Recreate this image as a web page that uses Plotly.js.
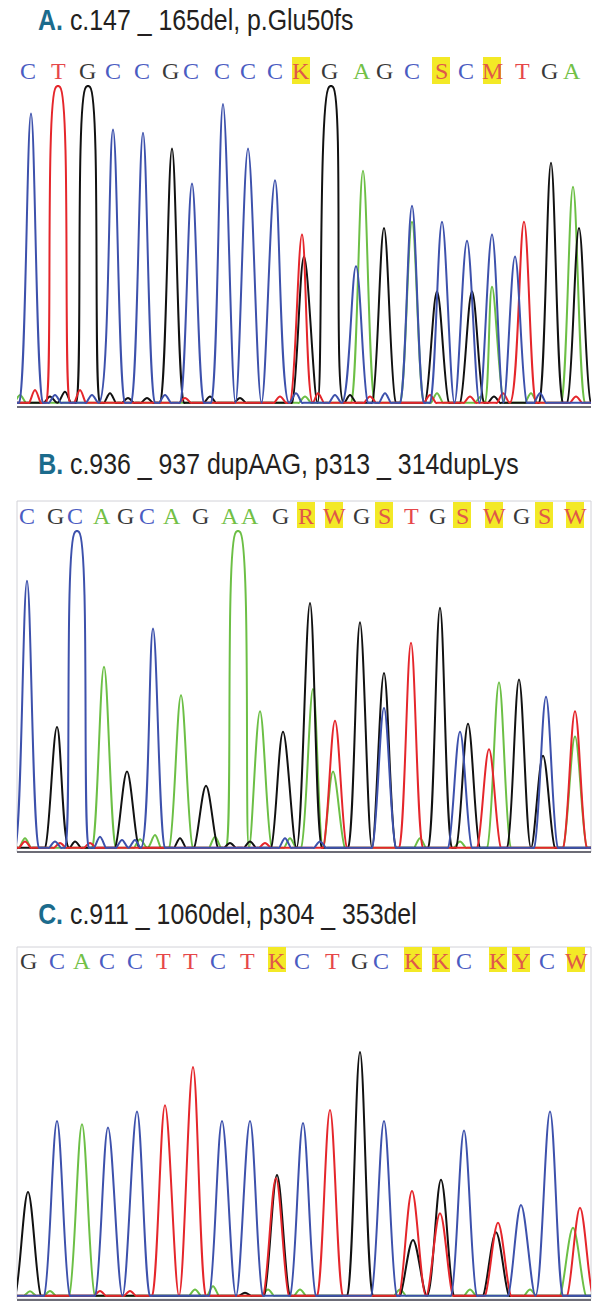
<!DOCTYPE html>
<html><head><meta charset="utf-8">
<script src="https://cdn.plot.ly/plotly-3.0.1.min.js"></script>
<style>html,body{margin:0;padding:0;background:#fff}#chart{width:608px;height:1308px}</style>
</head><body><div id="chart"></div>
<script>
// ---------- Panel titles ----------
const panelLabels = ['A.', 'B.', 'C.'];
const panelTitles = [
  'c.147 _ 165del, p.Glu50fs',
  'c.936 _ 937 dupAAG, p313 _ 314dupLys',
  'c.911 _ 1060del, p304 _ 353del'
];

// ---------- Base calls (letters) and their scan positions ----------
const seqA = ['C','T','G','C','C','G','C','C','C','C','K','G','A','G','C','S','C','M','T','G','A'];
const posA = [28,58,87,113,142,170,191,222,248,275,301,329,362,384,412,441,466,492,522,549,572];
const seqB = ['C','G','C','A','G','C','A','G','A','A','G','R','W','G','S','T','G','S','W','G','S','W'];
const posB = [27,55,75,102,125,147,172,200,230,250,280,306,334,361,384,411,437,462,494,521,544,575];
const seqC = ['G','C','A','C','C','T','T','C','T','K','C','T','G','C','K','K','C','K','Y','C','W'];
const posC = [28,57,82,107,135,163,190,218,247,277,302,332,359,381,413,441,464,498,521,547,576];

// ---------- Peaks: [scan position, relative signal (100 = off scale)] ----------
// Panel A
const aBlue  = [[31,91],[113,86],[143,85],[192,69],[223,94],[248,80],[275,70],[356,43],[412,62],[442,57],[467,51],[492,53],[515,46],[55,2.5],[92,2.5],[165,2.5],[296,3],[335,2.5],[385,3],[540,3]];
const aRed   = [[58,100],[302,53],[524,57],[35,4],[80,4],[185,1.5],[280,2],[318,3],[370,2],[430,2.5],[470,2],[503,3],[576,2]];
const aBlack = [[88,100],[172,80],[304,46],[331,100],[384,55],[437,35],[472,35],[551,75.5],[579,55],[50,2],[65,3.5],[110,3],[128,1.5],[147,1.5],[210,2],[240,1.5],[350,2.5],[494,2]];
const aGreen = [[363,73],[412,57],[492,36.5],[573,68],[20,2.5],[305,2],[437,3],[481,2],[531,3]];
// Panel B
const bBlue  = [[27,84],[77,100],[153,69],[384,44],[460,36.5],[546,47.5],[55,2],[100,3.5],[122,2.5],[135,2.5],[285,3],[320,2]];
const bRed   = [[335,40],[411,64.5],[489,31],[575,43],[25,2],[60,1.5],[90,1.5],[265,1.5]];
const bBlack = [[57,38],[127,24],[206,19.5],[283,36.5],[310,77],[360,71],[384,55],[440,75.5],[468,39],[519,53],[543,29],[75,2],[180,3],[230,1.5],[250,2]];
const bGreen = [[104,57],[181,48],[238,100],[260,43],[313,50],[333,24],[499,52],[575,35],[25,3],[140,2.7],[155,4],[215,3.5],[290,3],[420,3],[460,2]];
// Panel C
const cBlue  = [[57,55],[108,53],[137,58],[222,55],[250,55],[303,54.4],[384,55],[464,52],[521,28.6],[550,58]];
const cRed   = [[165,60],[193,72],[276,37],[330,58.5],[412,33],[440,26],[498,23],[580,27.7],[100,1.5],[130,1.5]];
const cBlack = [[28,32.7],[277,38],[360,76.7],[413,17.6],[441,36.5],[496,20],[245,1]];
const cGreen = [[82,54],[573,21.4],[30,1.4],[50,1.5],[195,2],[213,3],[268,2],[300,2],[400,2],[470,2],[530,2]];

// ---------- Styling ----------
const COL = {blue:'#3d51ac', red:'#e5262b', black:'#111111', green:'#6cbf45'};
const LETTER_COL = {A:'#72c046', C:'#4b5cc2', G:'#3a3a3a', T:'#e6474a'};
const AMBIG_COL = '#e0584a';
const HIGHLIGHT = '#f3e926';
const TITLE_SQUEEZE = 0.83;
const W = 608, H = 1308;
const py = px => 1 - px / H;

// panel geometry in pixels
const panels = [
  {seq:seqA, pos:posA, tr:{green:aGreen, black:aBlack, red:aRed, blue:aBlue}, top:85, bottom:406, titleY:19, letterY:71, hl:[57,84], box:null, w:12},
  {seq:seqB, pos:posB, tr:{green:bGreen, black:bBlack, red:bRed, blue:bBlue}, top:530, bottom:851, titleY:464, letterY:516, hl:[502,528], box:[501,852], w:12},
  {seq:seqC, pos:posC, tr:{green:cGreen, black:cBlack, red:cRed, blue:cBlue}, top:978, bottom:1299, titleY:913, letterY:961, hl:[947,972], box:[947,1299], w:13}
];

const CLIP = 99.4;
function curve(peaks, Wd) {
  const s = peaks.map(([p,h]) => ({p, h, w: h < 8 ? 6 : Wd})).sort((a,b)=>a.p-b.p);
  const xs = [0], ys = [0];
  for (let i = 0; i < s.length; i++) {
    const k = s[i], prev = s[i-1], next = s[i+1];
    const left = k.p - k.w, right = k.p + k.w;
    const overlapPrev = prev && (prev.p + prev.w + 1.5 >= left - 1.5);
    const overlapNext = next && (right + 1.5 >= next.p - next.w - 1.5);
    if (!overlapPrev) { xs.push(left - 1.5, left); ys.push(0, 0); }
    if (k.h >= 100) { xs.push(k.p - 2, k.p + 2); ys.push(CLIP, CLIP); }
    else { xs.push(k.p); ys.push(k.h); }
    if (!overlapNext) { xs.push(right, right + 1.5); ys.push(0, 0); }
    else { xs.push(k.p + (next.p - k.p) * k.w / (k.w + next.w)); ys.push(0); }
  }
  xs.push(610); ys.push(0);
  return {xs, ys};
}

const data = [];
const annotations = [];
const shapes = [];
const titleIdx = [];
const layout = {
  width: W, height: H,
  margin: {l:0, r:0, t:0, b:0},
  paper_bgcolor: '#ffffff', plot_bgcolor: 'rgba(0,0,0,0)',
  showlegend: false
};

panels.forEach((P, i) => {
  const n = i === 0 ? '' : String(i + 1);
  const xa = 'x' + n, ya = 'y' + n;
  layout['xaxis' + n] = {
    domain: [17 / W, 591 / W], range: [17, 591], anchor: ya,
    showline: true, linecolor: '#6c6c76', linewidth: 2,
    showgrid: false, zeroline: false, showticklabels: false, ticks: '', fixedrange: true
  };
  layout['yaxis' + n] = {
    domain: [py(P.bottom), py(P.top)], range: [-1, 100], anchor: xa,
    visible: false, fixedrange: true
  };
  ['green','black','red','blue'].forEach(ch => {
    const c = curve(P.tr[ch], P.w);
    data.push({
      type: 'scatter', mode: 'lines', x: c.xs, y: c.ys, xaxis: xa, yaxis: ya,
      line: {color: COL[ch], width: 2, shape: 'spline', smoothing: 1},
      hoverinfo: 'skip'
    });
  });
  // title
  titleIdx.push(annotations.length);
  annotations.push({
    xref: 'paper', yref: 'paper', x: 36 / W, y: py(P.titleY), xanchor: 'left', yanchor: 'middle',
    showarrow: false,
    text: '<span style="color:#1b6b8c"><b>' + panelLabels[i] + '</b></span> ' + panelTitles[i],
    font: {family: "'Liberation Sans', Arial, sans-serif", size: 30, color: '#231f20'}
  });
  // box
  if (P.box) {
    shapes.push({type:'rect', xref:'paper', yref:'paper', x0: 17 / W, x1: 591 / W, y0: py(P.box[1]), y1: py(P.box[0]),
      line: {color: '#d2d2d8', width: 1}, fillcolor: 'rgba(0,0,0,0)', layer: 'below'});
  }
  // letters
  P.seq.forEach((b, j) => {
    const amb = !(b in LETTER_COL);
    if (amb) {
      shapes.push({type:'rect', xref: xa, yref:'paper', x0: P.pos[j] - 9, x1: P.pos[j] + 9,
        y0: py(P.hl[1]), y1: py(P.hl[0]), line:{width:0}, fillcolor: HIGHLIGHT, layer:'above'});
    }
    annotations.push({
      xref: xa, yref: 'paper', x: P.pos[j], y: py(P.letterY), xanchor: 'center', yanchor: 'middle',
      showarrow: false, text: b,
      font: {family: "'Liberation Serif', 'Times New Roman', serif", size: 24, color: amb ? AMBIG_COL : LETTER_COL[b]}
    });
  });
});

layout.annotations = annotations;
layout.shapes = shapes;

function squeezeTitles() {
  titleIdx.forEach(k => {
    const g = document.querySelector('.annotation[data-index="' + k + '"]');
    if (!g) return;
    const t = g.querySelector('text.annotation-text');
    if (!t) return;
    const bb = t.getBBox();
    t.setAttribute('transform', 'translate(' + (bb.x * (1 - TITLE_SQUEEZE)) + ',0) scale(' + TITLE_SQUEEZE + ',1)');
  });
}
Plotly.newPlot('chart', data, layout, {staticPlot: true, displayModeBar: false}).then(squeezeTitles);
</script>
</body></html>
